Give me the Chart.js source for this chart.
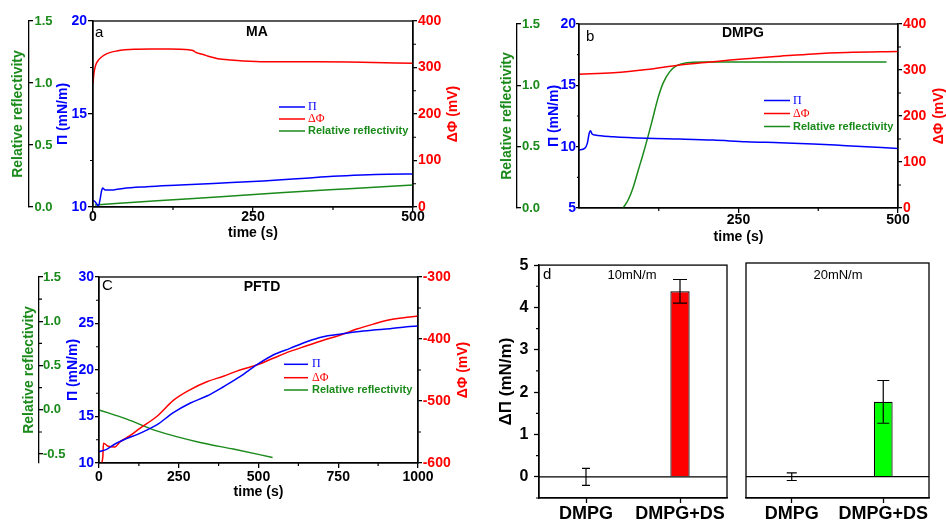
<!DOCTYPE html>
<html><head><meta charset="utf-8">
<script src="https://cdn.jsdelivr.net/npm/chart.js@4.4.1/dist/chart.umd.min.js"></script>
<style>
html,body{margin:0;padding:0;background:#fff;}
#wrap{position:relative;width:946px;height:521px;overflow:hidden;background:#fff;}
canvas{position:absolute;display:block;}
</style></head><body>
<div id="wrap">
<canvas id="pa" width="480" height="250" style="left:0;top:0"></canvas>
<canvas id="pb" width="466" height="250" style="left:480px;top:0"></canvas>
<canvas id="pc" width="480" height="271" style="left:0;top:250px"></canvas>
<canvas id="pd1" width="250" height="271" style="left:480px;top:250px"></canvas>
<canvas id="pd2" width="211" height="271" style="left:735px;top:250px"></canvas>
</div>
<script>
// ---------------- DATA ----------------
// Panel a (MA)
const aPhiTime = [0, 1, 2.5, 5, 8, 12, 18, 26, 37, 50, 65, 90, 120, 150, 157, 160, 166, 172, 180, 195, 215, 235, 270, 350, 420, 500];
const aPhi     = [266, 282, 296, 308, 315, 321, 327, 332, 335.5, 338, 339.5, 340, 340, 338, 336, 333, 330, 328, 324, 319, 316, 314, 312.5, 312.5, 311.5, 309];
const aPiTime  = [0, 3, 6, 8.5, 11, 13, 15, 19, 25, 32, 47, 84, 136, 188, 266, 332, 375, 420, 460, 500];
const aPi      = [10.35, 10.3, 10.15, 10.05, 10.4, 10.8, 11.02, 10.92, 10.92, 10.92, 11.0, 11.09, 11.18, 11.27, 11.4, 11.55, 11.65, 11.72, 11.76, 11.77];
const aRrTime  = [3, 100, 200, 292, 400, 500];
const aRr      = [0.016, 0.05, 0.083, 0.115, 0.148, 0.178];

// Panel b (DMPG)
const bPhiTime = [0, 54, 106, 158, 210, 247, 315, 367, 419, 500];
const bPhi     = [291, 294, 301, 311, 318, 323, 330, 335, 338, 340];
const bPiTime  = [0, 9, 13, 16, 18, 20.6, 25, 54, 106, 158, 210, 263, 315, 367, 419, 500];
const bPi      = [9.73, 9.86, 10.27, 11.09, 11.3, 11.03, 10.95, 10.81, 10.68, 10.62, 10.54, 10.4, 10.32, 10.22, 10.08, 9.86];
const bRrTime  = [69, 77, 85, 93, 100.5, 108, 116, 124, 132, 142, 153, 169, 195, 482];
const bRr      = [0, 0.065, 0.17, 0.31, 0.44, 0.58, 0.74, 0.9, 1.02, 1.11, 1.16, 1.185, 1.19, 1.19];

// Panel c (PFTD)
const cPhiTime = [9, 12, 14, 29, 50, 66, 97, 128, 181, 233, 285, 338, 390, 442, 494, 546, 599, 651, 703, 755, 808, 860, 912, 965, 1000];
const cPhi     = [-600, -590, -568, -573, -574, -566, -556, -544, -525, -499, -482, -469, -460, -450, -442, -431, -420, -411, -402, -394, -384, -376, -369, -365, -363];
const cPiTime  = [0, 24, 50, 76, 128, 181, 233, 285, 338, 390, 442, 494, 546, 599, 651, 703, 755, 808, 860, 912, 965, 1000];
const cPi      = [11.22, 11.47, 12.04, 12.47, 13.19, 14.09, 15.41, 16.42, 17.2, 18.2, 19.28, 20.54, 21.61, 22.33, 23.04, 23.58, 23.84, 24.12, 24.3, 24.44, 24.66, 24.73];
const cRrTime  = [0, 87, 181, 317, 421, 544];
const cRr      = [0.0, -0.105, -0.237, -0.368, -0.443, -0.537];

// Panel d (bars)
const barCategories = ['DMPG', 'DMPG+DS'];
const delta10 = [0, 4.38];
const err10   = [0.2, 0.28];
const delta20 = [0, 1.75];
const err20   = [0.09, 0.5];

// Tick labels
const aXTicks = [0, 250, 500];
const bXTicks = [250, 500];
const cXTicks = [0, 250, 500, 750, 1000];
const rrTicksAB = [0, 0.5, 1.0, 1.5];
const rrTicksC  = [-0.5, 0, 0.5, 1.0, 1.5];
const piTicksA = [10, 15, 20];
const piTicksB = [5, 10, 15, 20];
const piTicksC = [10, 15, 20, 25, 30];
const phiTicksAB = [0, 100, 200, 300, 400];
const phiTicksC  = [-600, -500, -400, -300];
const dTicks = [0, 1, 2, 3, 4, 5];

// ---------------- STYLE / HELPERS ----------------
const GREEN = '#1a8a1a', BLUE = '#0000ff', RED = '#ff0000';
const F = "'Liberation Sans', Arial, Helvetica, sans-serif";
const SERIF = "'Liberation Serif', 'Times New Roman', serif";
const fnt = (size, weight) => ({family: F, size: size, weight: weight || 'normal'});
const ticksFrom = arr => s => { s.ticks = arr.map(v => ({value: v})); };

const decor = {
  id: 'decor',
  afterDraw(chart, args, o) {
    const ctx = chart.ctx, ca = chart.chartArea;
    ctx.save();
    if (o.zeroLine) {
      const y = chart.scales.y.getPixelForValue(0);
      ctx.strokeStyle = '#000'; ctx.lineWidth = 1.2;
      ctx.beginPath(); ctx.moveTo(ca.left, y); ctx.lineTo(ca.right, y); ctx.stroke();
    }
    if (o.errors) {
      const meta = chart.getDatasetMeta(0), ys = chart.scales.y;
      const vals = chart.data.datasets[0].data;
      ctx.strokeStyle = '#000'; ctx.lineWidth = 1.2;
      meta.data.forEach((el, i) => {
        const v = vals[i], e = o.errors[i];
        const yt = ys.getPixelForValue(v + e), yb = ys.getPixelForValue(v - e);
        const c = (o.caps && o.caps[i]) || 6;
        ctx.beginPath();
        ctx.moveTo(el.x, yt); ctx.lineTo(el.x, yb);
        ctx.moveTo(el.x - c, yt); ctx.lineTo(el.x + c, yt);
        ctx.moveTo(el.x - c, yb); ctx.lineTo(el.x + c, yb);
        ctx.stroke();
      });
    }
    if (o.frame) {
      ctx.strokeStyle = '#000'; ctx.lineWidth = 1.3;
      ctx.strokeRect(ca.left, ca.top, ca.right - ca.left, ca.bottom - ca.top);
    }
    (o.minors || []).forEach(m => {
      const s = chart.scales[m.id];
      ctx.strokeStyle = '#000'; ctx.lineWidth = 1.2;
      ctx.beginPath();
      m.values.forEach(v => {
        const p = s.getPixelForValue(v);
        if (s.isHorizontal()) { ctx.moveTo(p, s.top); ctx.lineTo(p, s.top + m.len); }
        else { const x0 = s.position === 'left' ? s.right : s.left; ctx.moveTo(x0, p); ctx.lineTo(x0 + m.len, p); }
      });
      ctx.stroke();
    });
    (o.texts || []).forEach(t => {
      ctx.save();
      ctx.font = t.font; ctx.fillStyle = t.color || '#000';
      ctx.textAlign = t.align || 'center'; ctx.textBaseline = 'middle';
      ctx.translate(t.x, t.y);
      if (t.rot) ctx.rotate(t.rot);
      ctx.fillText(t.t, 0, 0);
      ctx.restore();
    });
    if (o.legend) {
      const L = o.legend;
      L.items.forEach(it => {
        ctx.strokeStyle = it.color; ctx.lineWidth = 1.5;
        ctx.beginPath(); ctx.moveTo(L.x1, it.y); ctx.lineTo(L.x2, it.y); ctx.stroke();
        ctx.font = it.font; ctx.fillStyle = it.color; ctx.textAlign = 'left'; ctx.textBaseline = 'middle';
        ctx.fillText(it.t, L.tx, it.y);
      });
    }
    ctx.restore();
  }
};

function lineChart(id, P) {
  const G = P.geo;
  const series = [
    {label: 'Π', t: P.piT, v: P.pi, axis: 'yB', color: BLUE},
    {label: 'ΔΦ', t: P.phiT, v: P.phi, axis: 'yR', color: RED},
    {label: 'Relative reflectivity', t: P.rrT, v: P.rr, axis: 'yG', color: GREEN}
  ];
  const tickGrid = tl => ({display: true, drawOnChartArea: false, drawTicks: true, tickLength: tl, tickWidth: 1.3, tickColor: '#000', lineWidth: 1.3});
  const border = {display: true, color: '#000', width: 1.3};
  return new Chart(document.getElementById(id), {
    type: 'line',
    data: {datasets: series.map(s => ({
      label: s.label, yAxisID: s.axis,
      data: s.t.map((t, i) => ({x: t, y: s.v[i]})),
      borderColor: s.color, backgroundColor: s.color, borderWidth: 1.5,
      pointRadius: 0, fill: false, cubicInterpolationMode: 'monotone'
    }))},
    options: {
      responsive: false, animation: false, events: [],
      layout: {padding: {left: 0, top: G.top, right: 0, bottom: 0}},
      plugins: {
        legend: {display: false}, tooltip: {enabled: false},
        decor: {
          frame: true,
          minors: P.minors,
          texts: P.texts,
          legend: {x1: G.lx1, x2: G.lx2, tx: G.ltx, items: [
            {t: 'Π', color: BLUE, font: '12px ' + SERIF, y: G.ly[0]},
            {t: 'ΔΦ', color: RED, font: '12px ' + SERIF, y: G.ly[1]},
            {t: 'Relative reflectivity', color: GREEN, font: 'bold 11px ' + F, y: G.ly[2]}
          ]}
        }
      },
      scales: {
        x: {type: 'linear', position: 'bottom', min: P.xMin, max: P.xMax,
          afterFit: s => { s.height = G.xH; }, afterBuildTicks: ticksFrom(P.xTicks),
          grid: tickGrid(5), border: border,
          ticks: {color: '#000', font: fnt(14, 'bold'), padding: G.xLabelPad, maxRotation: 0, autoSkip: false, callback: v => String(v)},
          title: {display: true, text: 'time (s)', color: '#000', font: fnt(14, 'bold'), padding: {top: 0, bottom: G.xTitlePad}}},
        yG: {type: 'linear', position: 'left', weight: 2, min: P.gMin, max: P.gMax,
          afterFit: s => { s.width = G.gW; }, afterBuildTicks: ticksFrom(P.gTicks),
          grid: tickGrid(-4), border: border,
          ticks: {color: GREEN, mirror: true, font: fnt(13, 'bold'), padding: G.gLabelPad, callback: v => Number(v).toFixed(1)},
          title: {display: true, text: 'Relative reflectivity', color: GREEN, font: fnt(14, 'bold'), padding: {top: G.gTitlePad, bottom: 0}}},
        yB: {type: 'linear', position: 'left', weight: 1, min: P.bMin, max: P.bMax,
          afterFit: s => { s.width = G.bW; }, afterBuildTicks: ticksFrom(P.bTicks),
          grid: tickGrid(G.bTl), border: border,
          ticks: {color: BLUE, font: fnt(14, 'bold'), padding: G.bLabelPad, callback: v => String(v)},
          title: {display: true, text: 'Π (mN/m)', color: BLUE, font: fnt(14, 'bold'), padding: {top: G.bTitlePad, bottom: 0}}},
        yR: {type: 'linear', position: 'right', min: P.rMin, max: P.rMax,
          afterFit: s => { s.width = G.rW; }, afterBuildTicks: ticksFrom(P.rTicks),
          grid: tickGrid(4), border: border,
          ticks: {color: RED, font: fnt(14, 'bold'), padding: G.rLabelPad, callback: v => String(v)},
          title: {display: false}}
      }
    },
    plugins: [decor]
  });
}

lineChart('pa', {
  piT: aPiTime, pi: aPi, phiT: aPhiTime, phi: aPhi, rrT: aRrTime, rr: aRr,
  xMin: 0, xMax: 500, xTicks: aXTicks, gMin: 0, gMax: 1.5, gTicks: rrTicksAB,
  bMin: 10, bMax: 20, bTicks: piTicksA, rMin: 0, rMax: 400, rTicks: phiTicksAB,
  geo: {top: 21, gW: 29, bW: 64, rW: 67, xH: 43, gTitlePad: 9.6, gLabelPad: 5.5, bTitlePad: 25.6, bLabelPad: 1, bTl: 5,
        rLabelPad: 1, xLabelPad: -2.8, xTitlePad: 8.6, lx1: 279, lx2: 305, ltx: 308, ly: [107, 119, 131]},
  minors: [{id: 'x', values: [125, 375], len: 3}, {id: 'yB', values: [12.5, 17.5], len: -3},
           {id: 'yR', values: [50, 150, 250, 350], len: 3}],
  texts: [
    {t: 'a', x: 95, y: 33, font: '15px ' + F, align: 'left'},
    {t: 'MA', x: 257, y: 32.5, font: 'bold 14px ' + F},
    {t: 'ΔΦ (mV)', x: 453, y: 114, font: 'bold 14px ' + F, color: RED, rot: -Math.PI / 2}
  ]
});

lineChart('pb', {
  piT: bPiTime, pi: bPi, phiT: bPhiTime, phi: bPhi, rrT: bRrTime, rr: bRr,
  xMin: 0, xMax: 500, xTicks: bXTicks, gMin: 0, gMax: 1.5, gTicks: rrTicksAB,
  bMin: 5, bMax: 20, bTicks: piTicksB, rMin: 0, rMax: 400, rTicks: phiTicksAB,
  geo: {top: 24, gW: 37, bW: 62, rW: 48, xH: 42, gTitlePad: 18.9, gLabelPad: 5, bTitlePad: 28.6, bLabelPad: 0, bTl: 3,
        rLabelPad: 1, xLabelPad: -0.8, xTitlePad: 4.3, lx1: 284, lx2: 310, ltx: 313, ly: [100.5, 113.5, 126.5]},
  minors: [{id: 'x', values: [125, 375], len: 3}, {id: 'yB', values: [7.5, 12.5, 17.5], len: -2},
           {id: 'yR', values: [50, 150, 250, 350], len: 3}],
  texts: [
    {t: 'b', x: 106, y: 36.5, font: '15px ' + F, align: 'left'},
    {t: 'DMPG', x: 263, y: 33.5, font: 'bold 14px ' + F},
    {t: 'ΔΦ (mV)', x: 459, y: 116, font: 'bold 14px ' + F, color: RED, rot: -Math.PI / 2}
  ]
});

lineChart('pc', {
  piT: cPiTime, pi: cPi, phiT: cPhiTime, phi: cPhi, rrT: cRrTime, rr: cRr,
  xMin: 0, xMax: 1000, xTicks: cXTicks, gMin: -0.6, gMax: 1.5, gTicks: rrTicksC,
  bMin: 10, bMax: 30, bTicks: piTicksC, rMin: -600, rMax: -300, rTicks: phiTicksC,
  geo: {top: 27, gW: 39, bW: 60, rW: 62, xH: 58, gTitlePad: 20.9, gLabelPad: 4, bTitlePad: 25.3, bLabelPad: 1, bTl: 4,
        rLabelPad: 0.7, xLabelPad: 0.9, xTitlePad: 20.9, lx1: 284, lx2: 308, ltx: 312, ly: [114.3, 127.7, 140]},
  minors: [{id: 'x', values: [125, 375, 625, 875], len: 3}, {id: 'yB', values: [12.5, 17.5, 22.5, 27.5], len: -3},
           {id: 'yR', values: [-550, -450, -350], len: 3}, {id: 'yG', values: [-0.25, 0.25, 0.75, 1.25], len: 3}],
  texts: [
    {t: 'C', x: 102, y: 36, font: '15px ' + F, align: 'left'},
    {t: 'PFTD', x: 262, y: 37, font: 'bold 14px ' + F},
    {t: 'ΔΦ (mV)', x: 463, y: 120, font: 'bold 14px ' + F, color: RED, rot: -Math.PI / 2}
  ]
});

function barChart(id, values, errs, color, G) {
  return new Chart(document.getElementById(id), {
    type: 'bar',
    data: {labels: barCategories, datasets: [{data: values, backgroundColor: color, borderColor: '#000', borderWidth: 1.2,
      barPercentage: 0.205, categoryPercentage: 1}]},
    options: {
      responsive: false, animation: false, events: [],
      layout: {padding: {left: G.left, top: 13, right: G.right, bottom: 0}},
      plugins: {legend: {display: false}, tooltip: {enabled: false},
        decor: {frame: true, zeroLine: true, errors: errs, caps: G.caps, texts: G.texts,
          minors: G.showY ? [{id: 'y', values: [-0.5, 0.5, 1.5, 2.5, 3.5, 4.5], len: -3}] : []}},
      scales: {
        x: {type: 'category', offset: true, afterFit: s => { s.height = 23; },
          grid: {display: true, offset: false, drawOnChartArea: false, tickLength: 5, tickWidth: 1.3, tickColor: '#000'},
          border: {display: true, color: '#000', width: 1.3},
          ticks: {color: '#000', font: fnt(18, 'bold'), padding: 0.2, maxRotation: 0, autoSkip: false}},
        y: {type: 'linear', display: G.showY, min: -0.5, max: 5, afterBuildTicks: ticksFrom(dTicks),
          afterFit: s => { s.width = G.showY ? 59 : 0; },
          grid: {display: true, drawOnChartArea: false, tickLength: 5, tickWidth: 1.3, tickColor: '#000'},
          border: {display: true, color: '#000', width: 1.3},
          ticks: {color: '#000', font: fnt(16, 'bold'), padding: 5.5, callback: v => String(v)},
          title: {display: true, text: 'ΔΠ (mN/m)', color: '#000', font: fnt(17, 'bold'), padding: {top: 16.5, bottom: 0}}}
      }
    },
    plugins: [decor]
  });
}

barChart('pd1', delta10, err10, '#ff0000', {left: 0, right: 3, showY: true, caps: [4, 7],
  texts: [{t: 'd', x: 63, y: 25, font: '15px ' + F, align: 'left'}, {t: '10mN/m', x: 152, y: 25, font: '13px ' + F}]});
barChart('pd2', delta20, err20, '#00ff00', {left: 11, right: 17, showY: false, caps: [5, 6],
  texts: [{t: '20mN/m', x: 103, y: 25, font: '13px ' + F}]});
</script>
</body></html>
